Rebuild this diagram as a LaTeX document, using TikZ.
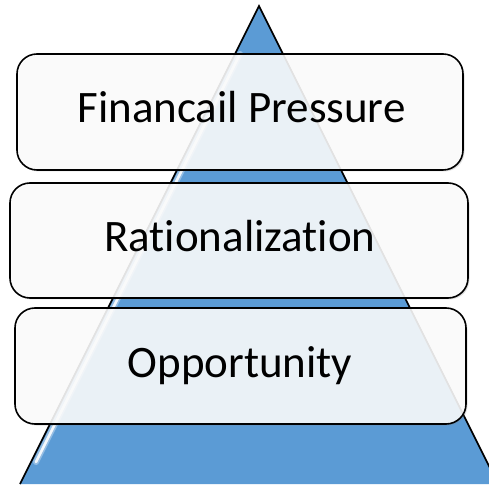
\documentclass[tikz,border=0pt]{standalone}
\usepackage{fontspec}
\setmainfont[Ligatures={NoCommon,NoRequired}]{Carlito}
\usetikzlibrary{shadows}
\definecolor{triblue}{HTML}{5B9BD5}
\begin{document}
\begin{tikzpicture}[x=1pt,y=1pt,
  layerbox/.style={draw=black, line width=1.6pt, rounded corners=20pt,
    fill=white, fill opacity=0.87,
    drop shadow={shadow xshift=1.5pt, shadow yshift=-1.5pt, opacity=0.25},
    inner sep=0pt},
  layertext/.style={anchor=base, inner sep=0pt, font=\fontsize{45}{52}\selectfont},
]
\useasboundingbox (0,0) rectangle (489,484);
\begin{scope}
\clip (0,0) rectangle (489,484);
\fill[triblue] (20,0) -- (259,478) -- (498,0) -- cycle;
\draw[white, opacity=0.35, line width=6pt, line cap=round] (240,430) -- (36,22);
\draw[white, opacity=0.9, line width=2.5pt, line cap=round] (240,430) -- (36,22);
\draw[black, line width=1.6pt, line join=miter] (20,0) -- (259,478) -- (498,0);
\end{scope}
\node[layerbox, minimum width=446pt, minimum height=116pt] (fp) at (240,372) {};
\node[layerbox, minimum width=458pt, minimum height=115pt] (ra) at (239,243.5) {};
\node[layerbox, minimum width=451pt, minimum height=116pt] (op) at (240.5,118) {};
\node[layertext] (fpt) at (241.5,361) {Financail Pressure};
\node[layertext] (rat) at (240,232) {Rationalization};
\node[layertext] (opt) at (240,106) {Opportunity};
\end{tikzpicture}
\end{document}
